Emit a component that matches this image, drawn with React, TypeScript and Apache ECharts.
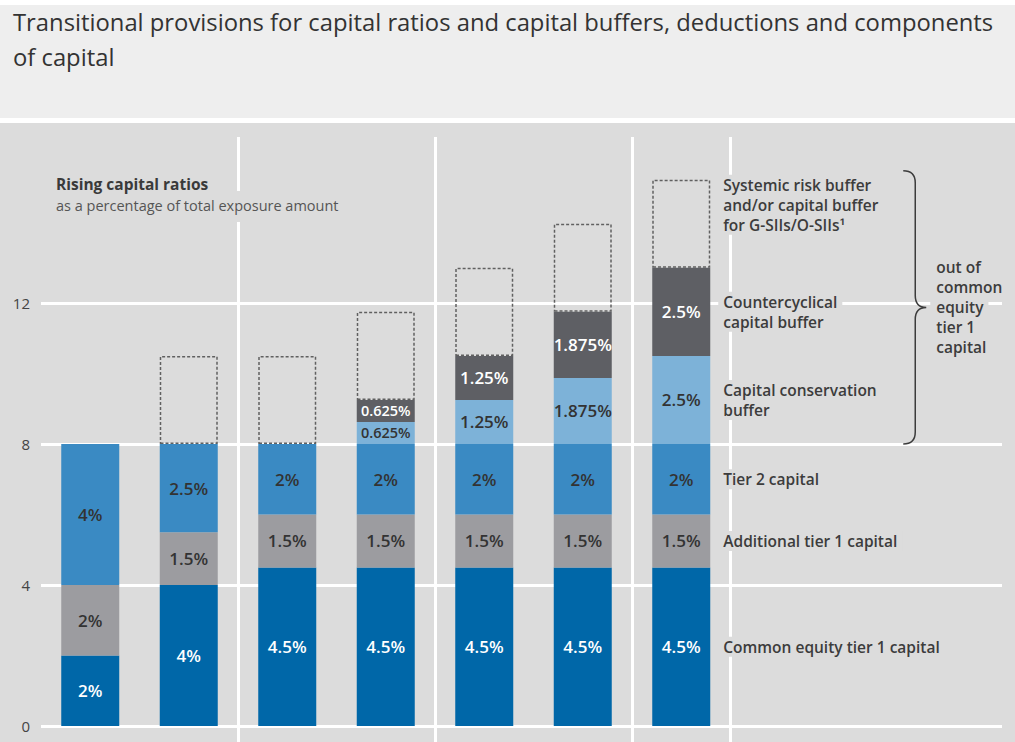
import React, { useEffect, useRef } from 'react';
import * as echarts from 'echarts';

const categories = ['Before 2014', '2014', '2015', '2016', '2017', '2018', '2019'];
const cet1 = [2, 4, 4.5, 4.5, 4.5, 4.5, 4.5];
const at1 = [2, 1.5, 1.5, 1.5, 1.5, 1.5, 1.5];
const tier2 = [4, 2.5, 2, 2, 2, 2, 2];
const conservation = [null, null, null, 0.625, 1.25, 1.875, 2.5];
const countercyclical = [null, null, null, 0.625, 1.25, 1.875, 2.5];
const systemic = [null, 2.5, 2.5, 2.5, 2.5, 2.5, 2.5];
const yTicks = [0, 4, 8, 12];
const braceRange = [8, 15.75];
const dividerBefore = [2, 4, 6];

const FONT = '"Open Sans", "Noto Sans", sans-serif';
const BG = '#dcdcdc';

type Layer = {
  name: string;
  text: string;
  data: (number | null)[];
  color: string;
  labelColor: string;
  dashed?: boolean;
};

const layers: Layer[] = [
  { name: 'Common equity tier 1 capital', text: 'Common equity tier 1 capital', data: cet1, color: '#0067a8', labelColor: '#ffffff' },
  { name: 'Additional tier 1 capital', text: 'Additional tier 1 capital', data: at1, color: '#9c9ca0', labelColor: '#333333' },
  { name: 'Tier 2 capital', text: 'Tier 2 capital', data: tier2, color: '#3a8ac3', labelColor: '#333333' },
  { name: 'Capital conservation buffer', text: 'Capital conservation\nbuffer', data: conservation, color: '#7db2d8', labelColor: '#333333' },
  { name: 'Countercyclical capital buffer', text: 'Countercyclical\ncapital buffer', data: countercyclical, color: '#5e5f64', labelColor: '#ffffff' },
  { name: 'Systemic risk buffer and/or capital buffer for G-SIIs/O-SIIs', text: 'Systemic risk buffer\nand/or capital buffer\nfor G-SIIs/O-SIIs¹', data: systemic, color: 'rgba(0,0,0,0)', labelColor: '#333333', dashed: true },
];

const GRID_LEFT = 41;
const BAND = 98.5;
const PX_PER_UNIT = 35.25;
const BOTTOM = 16;
const BAR_RIGHT = 1015 - GRID_LEFT - BAND * categories.length;

export default function App() {
  const ref = useRef<HTMLDivElement>(null);

  useEffect(() => {
    document.body.style.margin = '0';
    if (!ref.current) return;
    const chart = echarts.init(ref.current, null, { renderer: 'svg' });
    const last = categories.length - 1;

    const series: any[] = layers.map((layer, li) => {
      let lo = 0;
      for (let k = 0; k < li; k++) lo += layers[k].data[last] ?? 0;
      const v = layer.data[last] ?? 0;
      const hi = lo + v;
      const markCoord = layer.dashed ? hi : (lo + hi) / 2;
      return {
        type: 'bar',
        name: layer.name,
        stack: 'capital',
        xAxisIndex: 1,
        yAxisIndex: 1,
        barWidth: 58,
        z: layer.dashed ? 1 : 2,
        data: layer.data.map((d) =>
          d === null ? '-' : !layer.dashed && d < 1 ? { value: d, label: { fontSize: 14.5 } } : d
        ),
        itemStyle: layer.dashed
          ? { color: 'rgba(0,0,0,0)', borderColor: '#606060', borderWidth: 1.5, borderType: [3, 2] }
          : { color: layer.color },
        label: {
          show: !layer.dashed,
          position: 'inside',
          fontFamily: FONT,
          fontWeight: 600,
          color: layer.labelColor,
          formatter: (p: any) => `${p.value}%`,
          fontSize: 17,
        },
        markPoint: {
          silent: true,
          symbol: 'circle',
          symbolSize: 0,
          z: 6,
          data: [{ coord: [categories[last], markCoord] }],
          label: {
            show: true,
            position: 'right',
            distance: 37,
            offset: layer.dashed ? [0, 25] : [0, 0],
            formatter: layer.text,
            fontFamily: FONT,
            fontWeight: 600,
            fontSize: 15.5,
            lineHeight: 20,
            color: '#3c3c3c',
            backgroundColor: BG,
            padding: [0, 5, 0, 5],
          },
        },
      };
    });

    series.push({
      type: 'custom',
      xAxisIndex: 1,
      yAxisIndex: 1,
      silent: true,
      z: 5,
      data: [[last, braceRange[0], braceRange[1]]],
      encode: { x: 0, y: [1, 2] },
      renderItem: (params: any, api: any) => {
        const top = api.coord([api.value(0), api.value(2)]);
        const bot = api.coord([api.value(0), api.value(1)]);
        const x = top[0] + 222;
        const y0 = top[1];
        const y1 = bot[1];
        const ym = (y0 + y1) / 2;
        const w = 12;
        const r = 12;
        const d = `M${x} ${y0} Q${x + w} ${y0} ${x + w} ${y0 + r} L${x + w} ${ym - r} Q${x + w} ${ym} ${x + w + 11} ${ym} Q${x + w} ${ym} ${x + w} ${ym + r} L${x + w} ${y1 - r} Q${x + w} ${y1} ${x} ${y1}`;
        return {
          type: 'group',
          children: [
            { type: 'path', shape: { pathData: d }, style: { stroke: '#3c3c3c', lineWidth: 1.5, fill: 'none' } },
            {
              type: 'text',
              x: x + 27,
              y: ym,
              style: {
                text: '{a|out of}\n{a|common}\n{e|equity}\n{a|tier 1}\n{a|capital}',
                verticalAlign: 'middle',
                align: 'left',
                fill: '#3c3c3c',
                font: `600 15.5px ${FONT}`,
                rich: {
                  a: { fontFamily: FONT, fontWeight: 600, fontSize: 15.5, lineHeight: 20, padding: [0, 0, 0, 6], fill: '#3c3c3c' },
                  e: { fontFamily: FONT, fontWeight: 600, fontSize: 15.5, lineHeight: 20, padding: [0, 5, 0, 6], backgroundColor: BG, fill: '#3c3c3c' },
                },
              },
            },
          ],
        };
      },
    });

    chart.setOption({
      animation: false,
      backgroundColor: 'transparent',
      grid: [
        { left: GRID_LEFT, right: 13, top: 742 - BOTTOM - 12 * PX_PER_UNIT, bottom: BOTTOM },
        { left: GRID_LEFT, right: BAR_RIGHT, top: 742 - BOTTOM - 16 * PX_PER_UNIT, bottom: BOTTOM },
        { left: GRID_LEFT, right: BAR_RIGHT, top: 137, bottom: 0 },
      ],
      xAxis: [
        { gridIndex: 0, type: 'value', min: 0, max: 1, show: false },
        { gridIndex: 1, type: 'category', data: categories, show: false },
        {
          gridIndex: 2,
          type: 'category',
          data: categories,
          axisLine: { show: false },
          axisTick: { show: false },
          axisLabel: { show: false },
          splitLine: {
            show: true,
            interval: (index: number) => dividerBefore.includes(index),
            lineStyle: { color: '#ffffff', width: 3 },
          },
        },
      ],
      yAxis: [
        {
          gridIndex: 0,
          type: 'value',
          min: yTicks[0],
          max: yTicks[yTicks.length - 1],
          interval: yTicks[1] - yTicks[0],
          axisLine: { show: false },
          axisTick: { show: false },
          axisLabel: { color: '#444444', fontSize: 15, fontFamily: FONT, margin: 11 },
          splitLine: { show: true, lineStyle: { color: '#ffffff', width: 3 } },
        },
        { gridIndex: 1, type: 'value', min: 0, max: 16, show: false, splitLine: { show: false } },
        { gridIndex: 2, type: 'value', min: 0, max: 1, show: false, splitLine: { show: false } },
      ],
      graphic: [
        {
          type: 'text',
          left: 13,
          top: 4,
          style: {
            text: 'Transitional provisions for capital ratios and capital buffers, deductions and components\nof capital',
            fontFamily: FONT,
            fontSize: 23.8,
            lineHeight: 35,
            fill: '#333333',
          },
        },
        {
          type: 'text',
          left: 52,
          top: 191,
          z: 10,
          style: {
            text: 'as a percentage of total exposure amount',
            fontFamily: FONT,
            fontSize: 14.5,
            lineHeight: 18,
            fill: '#555555',
            backgroundColor: BG,
            padding: [5, 4, 8, 4],
          },
        },
        {
          type: 'text',
          left: 56,
          top: 174,
          z: 11,
          style: { text: 'Rising capital ratios', fontFamily: FONT, fontWeight: 'bold', fontSize: 15.5, lineHeight: 19, fill: '#3a3a3a' },
        },
      ],
      series,
    });

    return () => chart.dispose();
  }, []);

  return (
    <div
      ref={ref}
      style={{
        width: 1015,
        height: 742,
        background:
          'linear-gradient(to bottom, #ffffff 0px, #ffffff 5px, #eeeeee 5px, #eeeeee 118px, #ffffff 118px, #ffffff 123px, #dcdcdc 123px, #dcdcdc 742px)',
      }}
    />
  );
}
